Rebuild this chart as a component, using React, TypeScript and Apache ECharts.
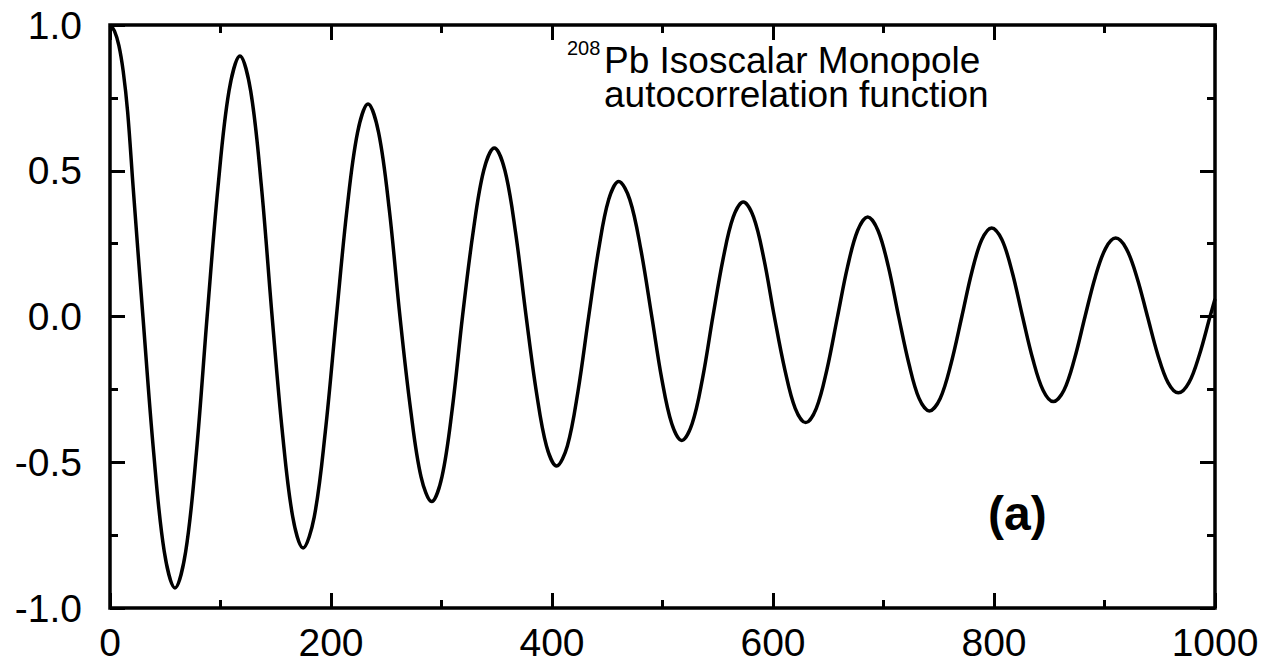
import React, { useEffect, useRef } from "react";
import * as echarts from "echarts";

// time points (x)
const times = [
  0, 4, 8, 12, 16, 21, 29.8, 39.5, 49.1, 58.8, 68.5, 78.2, 87.9, 97.8, 107.7,
  117.6, 127.3, 137.0, 146.7, 156.0, 165.4, 174.7, 184.8, 194.8, 204.9, 214.4,
  224.0, 233.5, 243.1, 252.8, 262.4, 272.0, 281.5, 291.1, 300.4, 309.7, 319.0,
  328.6, 338.2, 347.8, 357.4, 367.0, 376.6, 385.8, 395.0, 404.2, 413.9, 423.5,
  433.2, 442.3, 451.3, 460.4, 470.4, 480.3, 490.3, 499.3, 508.4, 517.4, 526.8,
  536.2, 545.6, 554.8, 563.9, 573.1, 582.5, 591.8, 601.2, 610.7, 620.1, 629.6,
  639.2, 648.8, 658.4, 667.5, 676.6, 685.7, 695.0, 704.4, 713.7, 723.0, 732.2,
  741.5, 751.3, 761.1, 770.9, 779.9, 788.9, 797.9, 807.2, 816.5, 825.8, 835.1,
  844.4, 853.7, 863.3, 872.8, 882.4, 891.6, 900.9, 910.1, 919.7, 929.3, 938.9,
  948.2, 957.5, 966.8, 976.4, 985.9, 995.5, 1000,
];
// autocorrelation values at those times
const values = [
  1.0, 0.98, 0.93, 0.84, 0.7, 0.44, 0, -0.466, -0.806, -0.931, -0.806, -0.466,
  0, 0.447, 0.774, 0.894, 0.774, 0.447, 0, -0.397, -0.688, -0.794, -0.688,
  -0.397, 0, 0.365, 0.631, 0.729, 0.631, 0.365, 0, -0.318, -0.55, -0.635,
  -0.55, -0.318, 0, 0.289, 0.501, 0.578, 0.501, 0.289, 0, -0.257, -0.444,
  -0.513, -0.444, -0.257, 0, 0.232, 0.401, 0.463, 0.401, 0.232, 0, -0.213,
  -0.368, -0.425, -0.368, -0.213, 0, 0.197, 0.34, 0.393, 0.34, 0.197, 0,
  -0.182, -0.315, -0.364, -0.315, -0.182, 0, 0.171, 0.295, 0.341, 0.295,
  0.171, 0, -0.162, -0.281, -0.324, -0.281, -0.162, 0, 0.152, 0.263, 0.304,
  0.263, 0.152, 0, -0.146, -0.253, -0.292, -0.253, -0.146, 0, 0.135, 0.233,
  0.269, 0.233, 0.135, 0, -0.131, -0.227, -0.262, -0.227, -0.131, 0, 0.06,
];

const xTicks = [0, 200, 400, 600, 800, 1000];
const yTicks = [-1.0, -0.5, 0.0, 0.5, 1.0];

const titleSup = "208";
const titleLines = "Pb Isoscalar Monopole\nautocorrelation function";
const panelLabel = "(a)";

const FONT = "'Liberation Sans', Arial, Helvetica, sans-serif";

export default function App() {
  const ref = useRef<HTMLDivElement>(null);

  useEffect(() => {
    if (!ref.current) return;
    const chart = echarts.init(ref.current, undefined, { renderer: "svg" });
    const data = times.map((t, i) => [t, values[i]]);

    const tickCommon = {
      show: true,
      inside: true,
      length: 15,
      lineStyle: { color: "#000", width: 3 },
    };
    const minorCommon = {
      show: true,
      splitNumber: 2,
      length: 8,
      lineStyle: { color: "#000", width: 3 },
    };

    const xBase = {
      type: "value",
      min: xTicks[0],
      max: xTicks[xTicks.length - 1],
      interval: 200,
      axisLine: { show: false, onZero: false },
      axisTick: tickCommon,
      minorTick: minorCommon,
      splitLine: { show: false },
      minorSplitLine: { show: false },
    };
    const yBase = {
      type: "value",
      min: yTicks[0],
      max: yTicks[yTicks.length - 1],
      interval: 0.5,
      axisLine: { show: false, onZero: false },
      axisTick: tickCommon,
      minorTick: minorCommon,
      splitLine: { show: false },
      minorSplitLine: { show: false },
    };

    chart.setOption({
      animation: false,
      backgroundColor: "#fff",
      grid: {
        left: 110,
        right: 51,
        top: 25,
        bottom: 57,
        show: true,
        borderColor: "#000",
        borderWidth: 3.5,
        backgroundColor: "transparent",
      },
      xAxis: [
        {
          ...xBase,
          position: "bottom",
          axisLabel: {
            show: true,
            color: "#000",
            fontSize: 39,
            fontFamily: FONT,
            margin: 15,
            formatter: (v: number) => String(v),
          },
        },
        {
          ...xBase,
          position: "top",
          axisLabel: { show: false },
        },
      ],
      yAxis: [
        {
          ...yBase,
          position: "left",
          axisLabel: {
            show: true,
            color: "#000",
            fontSize: 39,
            fontFamily: FONT,
            margin: 28,
            formatter: (v: number) => v.toFixed(1),
          },
        },
        {
          ...yBase,
          position: "right",
          axisLabel: { show: false },
        },
      ],
      series: [
        {
          type: "line",
          xAxisIndex: 0,
          yAxisIndex: 0,
          data,
          showSymbol: false,
          smooth: 0.35,
          lineStyle: { color: "#000", width: 3.5 },
          silent: true,
        },
      ],
      graphic: [
        {
          type: "text",
          left: 567,
          top: 38,
          style: {
            text: titleSup,
            fontSize: 20,
            fontFamily: FONT,
            fill: "#000",
          },
        },
        {
          type: "text",
          left: 604,
          top: 42,
          style: {
            text: titleLines,
            fontSize: 37,
            lineHeight: 34,
            fontFamily: FONT,
            fill: "#000",
          },
        },
        {
          type: "text",
          left: 988,
          top: 489,
          style: {
            text: panelLabel,
            fontSize: 48,
            fontWeight: "bold",
            fontFamily: FONT,
            fill: "#000",
          },
        },
      ],
    });

    return () => chart.dispose();
  }, []);

  return (
    <div
      ref={ref}
      style={{ position: "fixed", left: 0, top: 0, width: 1266, height: 665 }}
    />
  );
}
